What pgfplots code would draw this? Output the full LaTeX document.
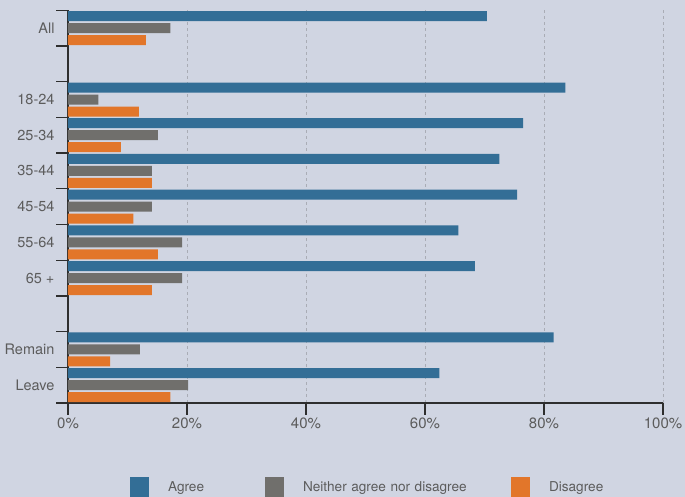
\documentclass[border=0pt]{standalone}
\usepackage{pgfplots}
\usepackage{pgfplotstable}
\pgfplotsset{compat=1.18}
\usepackage{fontspec}
\setmainfont{TeX Gyre Heros}
\definecolor{bg}{HTML}{D0D5E2}
\definecolor{cAgree}{HTML}{336E96}
\definecolor{cNeither}{HTML}{706F6C}
\definecolor{cDis}{HTML}{E2762A}
\definecolor{gridc}{HTML}{A9ACB5}
\definecolor{axc}{HTML}{2E2E2E}
\definecolor{txt}{HTML}{5C5C5C}

\pgfplotstableread{
pos agree neither disagree
10 70.4 17.2 13.1
8 83.6 5.1 11.9
7 76.5 15.1 8.9
6 72.5 14.1 14.1
5 75.5 14.1 11.0
4 65.6 19.2 15.1
3 68.4 19.2 14.1
1 81.6 12.1 7.1
0 62.4 20.2 17.2
}\datatable

\begin{document}
\begin{tikzpicture}
\path[use as bounding box, fill=bg] (-68bp,-94bp) rectangle (617bp,403bp);
\begin{axis}[
 at={(0,0)}, anchor=south west,
 scale only axis, width=595bp, height=392.7bp,
 xmin=0, xmax=100, ymin=-0.5, ymax=10.5,
 axis lines=left, axis line style={-, draw=axc, line width=1.2bp},
 xbar, bar width=10bp,
 xtick={0,20,40,60,80,100}, xticklabels={0\%,20\%,40\%,60\%,80\%,100\%},
 ytick={-0.5,0.5,...,10.5}, yticklabels={},
 extra y ticks={0,1,3,4,5,6,7,8,10},
 extra y tick labels={Leave,Remain,65 +,55-64,45-54,35-44,25-34,18-24,All},
 extra y tick style={major tick length=0pt},
 tick align=outside, major tick length=11.5bp,
 tick style={draw=axc, line width=1.2bp},
 xmajorgrids,
 major grid style={draw=gridc, line width=1bp, dash pattern=on 3bp off 3bp},
 xticklabel style={font=\fontsize{15bp}{18bp}\selectfont, text=txt},
 yticklabel style={font=\fontsize{14.5bp}{17bp}\selectfont, text=txt, xshift=-10bp},
 legend columns=3,
 legend cell align=left,
 legend image code/.code={\fill[#1, draw=none] (0bp,-10bp) rectangle (19bp,10bp);},
 legend style={at={(axis description cs:0.104,-0.2139)}, anchor=west, draw=none, fill=none, inner sep=0pt,
   font=\fontsize{13.6bp}{16bp}\selectfont, text=txt,
   /tikz/every odd column/.append style={column sep=17bp}},
]
\addplot[fill=cAgree, draw=none, bar shift=12bp] table[x=agree, y=pos]{\datatable};
\addlegendentry[text width=95bp]{Agree}
\addplot[fill=cNeither, draw=none, bar shift=0bp] table[x=neither, y=pos]{\datatable};
\addlegendentry[text width=206bp]{Neither agree nor disagree}
\addplot[fill=cDis, draw=none, bar shift=-12bp] table[x=disagree, y=pos]{\datatable};
\addlegendentry[text width=80bp]{Disagree}
\end{axis}
\end{tikzpicture}
\end{document}
